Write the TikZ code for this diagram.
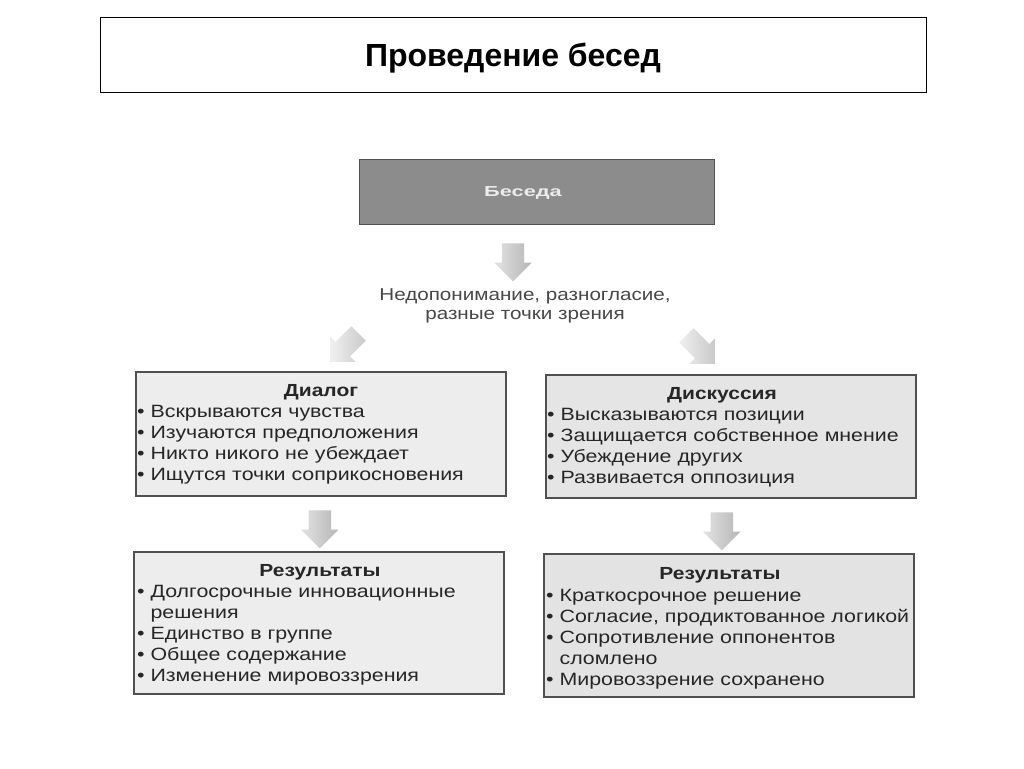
\documentclass[tikz,border=0pt]{standalone}
\usepackage{fontspec}
\setmainfont{Liberation Sans}
\newfontfamily\wfont[FakeStretch=1.2]{Liberation Sans}
\newfontfamily\xfont[FakeStretch=1.5]{Liberation Sans}
\usetikzlibrary{shapes.arrows,calc}
\definecolor{txt}{HTML}{262626}
\definecolor{bord}{HTML}{505050}
\tikzset{
  frame/.style={draw=bord, line width=1.6pt, inner sep=0pt, anchor=north west},
  hdr/.style={font=\wfont\fontsize{17.5}{20}\selectfont\bfseries, text=txt, inner sep=0pt},
  items/.style={font=\wfont\fontsize{17.8}{20.9}\selectfont, text=txt, align=left, inner sep=0pt, anchor=north west},
  blockarrow/.style={single arrow, inner sep=0pt, minimum height=#1,
     single arrow head extend=7.5pt, left color=gray!22, right color=gray!58, draw=none},
  blockarrow/.default=38pt,
  faint/.style={left color=gray!12, right color=gray!42}
}
\newcommand{\shaft}[1]{\rule{0pt}{#1}}
\begin{document}
\begin{tikzpicture}[x=1pt,y=-1pt]
\useasboundingbox[fill=white] (0,0) rectangle (1024,768);

% title
\node[draw=black, line width=1pt, minimum width=826pt, minimum height=74pt, inner sep=0pt] (title) at (513,55) {};
\node[font=\fontsize{32}{34}\selectfont\bfseries, inner sep=0pt] (titleT) at (513,58) {Проведение бесед};

% top box
\node[frame, fill=black!45, minimum width=355pt, minimum height=65pt, anchor=center] (beseda) at (537,192) {};
\node[font=\xfont\fontsize{14.5}{16}\selectfont\bfseries, text=gray!15, inner sep=0pt] (besedaT) at (523,193) {Беседа};

\node[font=\wfont\fontsize{17.2}{19.5}\selectfont, text=txt!85, align=center, inner sep=0pt] (mis) at (525,306)
  {Недопонимание, разногласие,\\разные точки зрения};

% dialog
\node[frame, fill=gray!14, minimum width=370pt, minimum height=124pt] (dialog) at (135,371) {};
\node[hdr] (dialogH) at (321,392) {Диалог};
\node[items] (dialogL) at (137,405) {• Вскрываются чувства\\• Изучаются предположения\\• Никто никого не убеждает\\• Ищутся точки соприкосновения};

% discussion
\node[frame, fill=gray!20, minimum width=370pt, minimum height=123pt] (disc) at (545,374) {};
\node[hdr] (discH) at (722,395) {Дискуссия};
\node[items] (discL) at (547,408.5) {• Высказываются позиции\\• Защищается собственное мнение\\• Убеждение других\\• Развивается оппозиция};

% results left
\node[frame, fill=gray!14, minimum width=370pt, minimum height=142pt] (resL) at (133,551) {};
\node[hdr] (resLH) at (320,572.5) {Результаты};
\node[items] (resLL) at (137,585) {• Долгосрочные инновационные\\\phantom{• }решения\\• Единство в группе\\• Общее содержание\\• Изменение мировоззрения};

% results right
\node[frame, fill=gray!22, minimum width=370pt, minimum height=143pt] (resR) at (543,553) {};
\node[hdr] (resRH) at (720,575) {Результаты};
\node[items] (resRL) at (546,589) {• Краткосрочное решение\\• Согласие, продиктованное логикой\\• Сопротивление оппонентов\\\phantom{• }сломлено\\• Мировоззрение сохранено};

% arrows
\node[blockarrow, rotate=-90] (a1) at ($(beseda.south)!0.5!(mis.north)+(-18,0)$) {\shaft{22pt}};
\node[blockarrow=40pt, faint, rotate=-135] (a2) at (348,344) {\shaft{20pt}};
\node[blockarrow=40pt, faint, rotate=-45] (a3) at (697,346) {\shaft{20pt}};
\node[blockarrow, rotate=-90] (a4) at ($(dialog.south)!0.5!(resL.north)$) {\shaft{22pt}};
\node[blockarrow, rotate=-90] (a5) at ($(disc.south)!0.5!(resR.north)+(-8,0)$) {\shaft{22pt}};
\end{tikzpicture}
\end{document}
